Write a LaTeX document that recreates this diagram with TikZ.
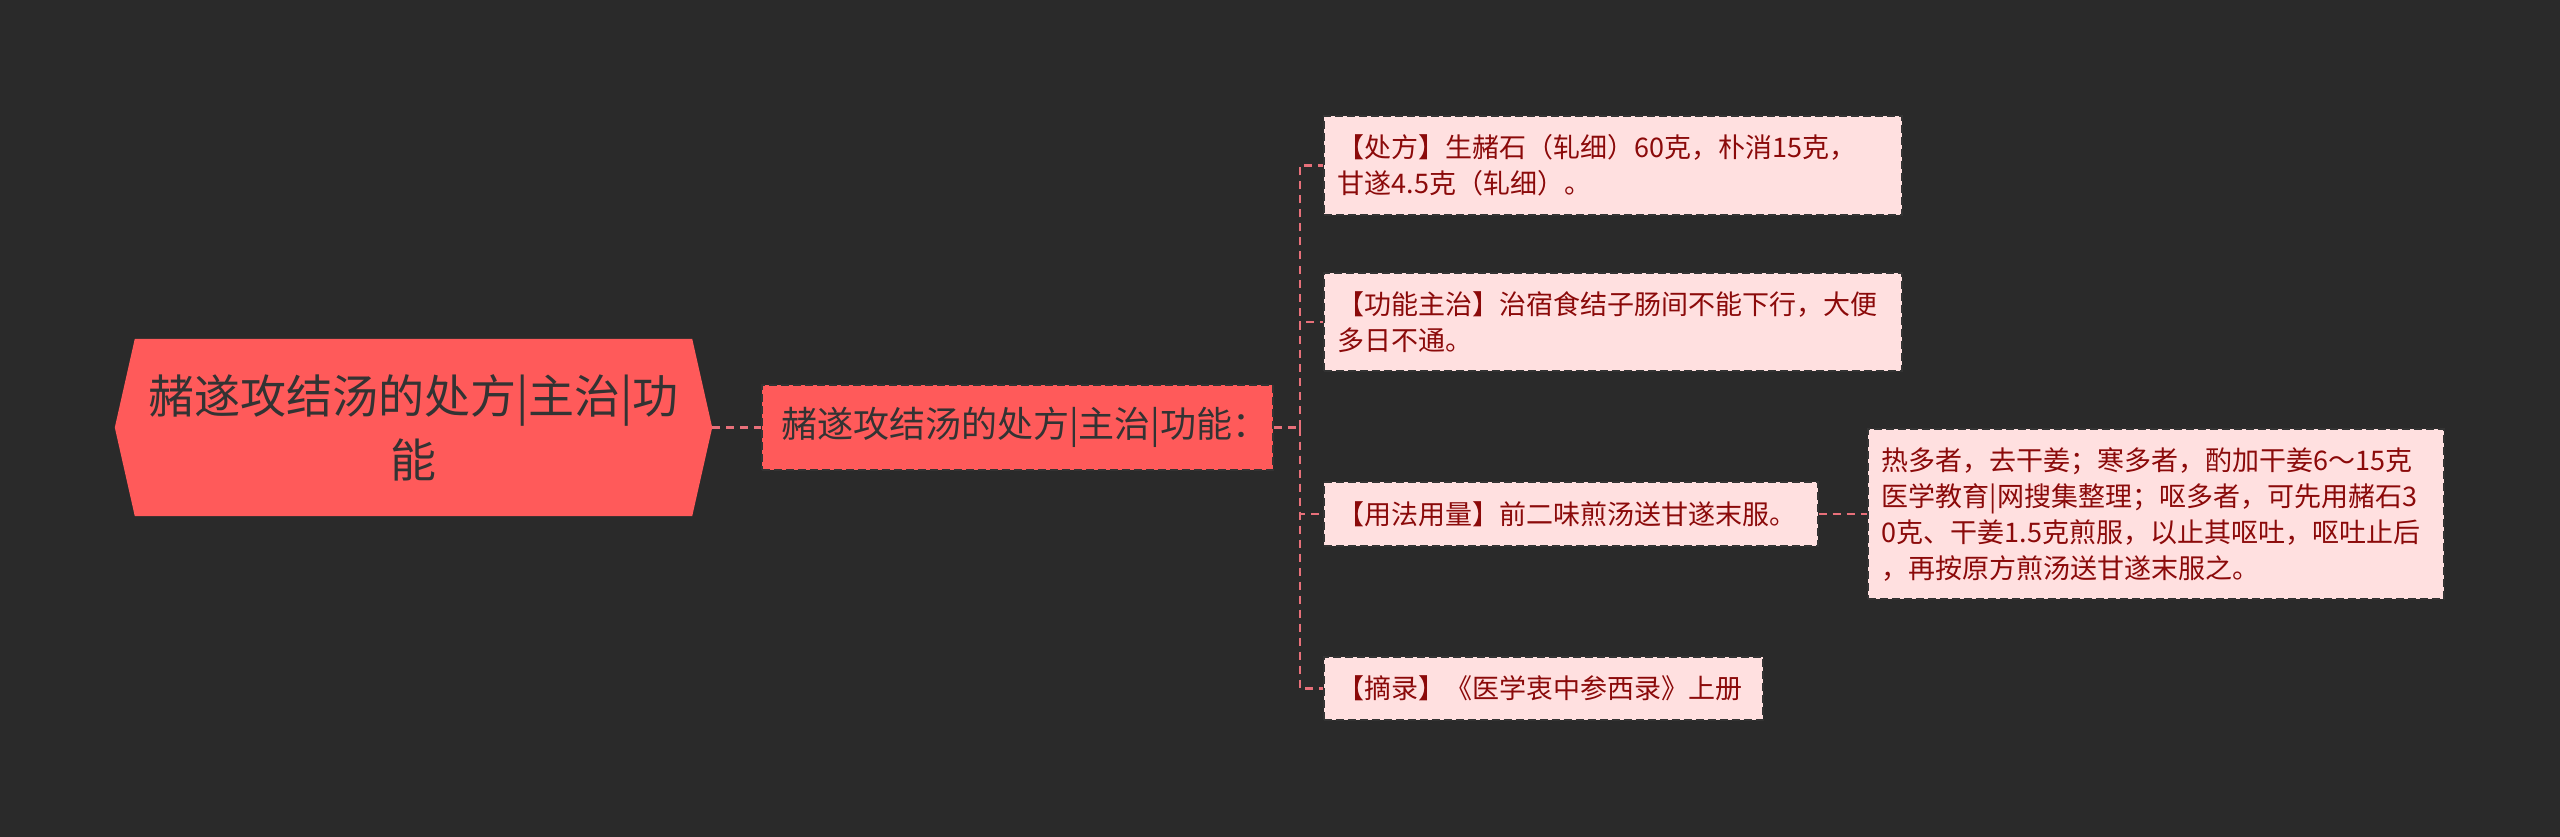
\documentclass[tikz,border=0pt]{standalone}
\usepackage{fontspec}
\setmainfont{Noto Sans CJK SC}
\usepackage{tikz}
\usetikzlibrary{backgrounds}

\begin{document}
\begin{tikzpicture}[x=1pt, y=-1pt, every node/.style={align=center},
    link/.style={draw=linkred, line width=2.5pt, dash pattern=on 8pt off 6pt},
    rootbox/.style={minimum width=557pt, minimum height=177pt, inner sep=0pt, text=textdark, font=\fontsize{46}{64}\selectfont},
    mainbox/.style={fill=rootred, draw=textdark, line width=1.5pt, dash pattern=on 8pt off 4pt, minimum height=85pt, text width=473pt, inner xsep=19pt, align=left, text=textdark, font=\fontsize{36}{44}\selectfont},
    leaf/.style={anchor=west, align=left, fill=leafbg, draw=leafline, line width=1.5pt, dash pattern=on 8pt off 4pt, inner xsep=14pt, text=leaftext, font=\fontsize{27}{36}\selectfont}]
      \definecolor{bgdark}{HTML}{2A2A2A} \definecolor{rootred}{HTML}{FF5A5A}
      \definecolor{leafbg}{HTML}{FFE0E0} \definecolor{leafline}{HTML}{333333}
      \definecolor{leaftext}{HTML}{8B0A0A} \definecolor{linkred}{HTML}{E8707A}
      \definecolor{textdark}{HTML}{333333}
      \useasboundingbox (0,0) rectangle (2560,837);
      % root and first level
      \node[rootbox] (root) at (413.5,427.5) {赭遂攻结汤的处方|主治|功\\能};
      \node[mainbox] (main) at (1017.5,427.5) {赭遂攻结汤的处方|主治|功能：};
      \begin{scope}[on background layer]
        \fill[bgdark] (0,0) rectangle (2560,837);
        \fill[rootred] ([xshift=-20pt]root.west) -- (root.north west) -- (root.north east) -- ([xshift=20pt]root.east) -- (root.south east) -- (root.south west) -- cycle;
      \end{scope}
      % leaves
      \node[leaf, text width=550pt, minimum height=99pt] (recipe) at (1323,165.5) {【处方】生赭石（轧细）60克，朴消15克，\\甘遂4.5克（轧细）。};
      \node[leaf, text width=550pt, minimum height=98pt] (effect) at (1323,322) {【功能主治】治宿食结子肠间不能下行，大便\\多日不通。};
      \node[leaf, text width=466pt, minimum height=64pt] (usage) at (1323,514) {【用法用量】前二味煎汤送甘遂末服。};
      \node[leaf, text width=411pt, minimum height=63pt] (source) at (1323,688.5) {【摘录】《医学衷中参西录》上册};
      \node[leaf, text width=548pt, minimum height=170pt] (note) at (1867,514) {热多者，去干姜；寒多者，酌加干姜6～15克\\医学教育|网搜集整理；呕多者，可先用赭石3\\0克、干姜1.5克煎服，以止其呕吐，呕吐止后\\，再按原方煎汤送甘遂末服之。};
      % connectors
      \coordinate (roottip) at ([xshift=20pt]root.east);
      \coordinate (fork) at ([xshift=26pt]main.east);
      \draw[link] (roottip) -- (main.west);
      \draw[link] (main.east) -- (fork);
      \draw[link] (fork) |- (recipe.west);
      \draw[link] (fork) |- (effect.west);
      \draw[link] (fork) |- (usage.west);
      \draw[link] (fork) |- (source.west);
      \draw[link] (usage.east) -- (note.west);
    \end{tikzpicture}
\end{document}
